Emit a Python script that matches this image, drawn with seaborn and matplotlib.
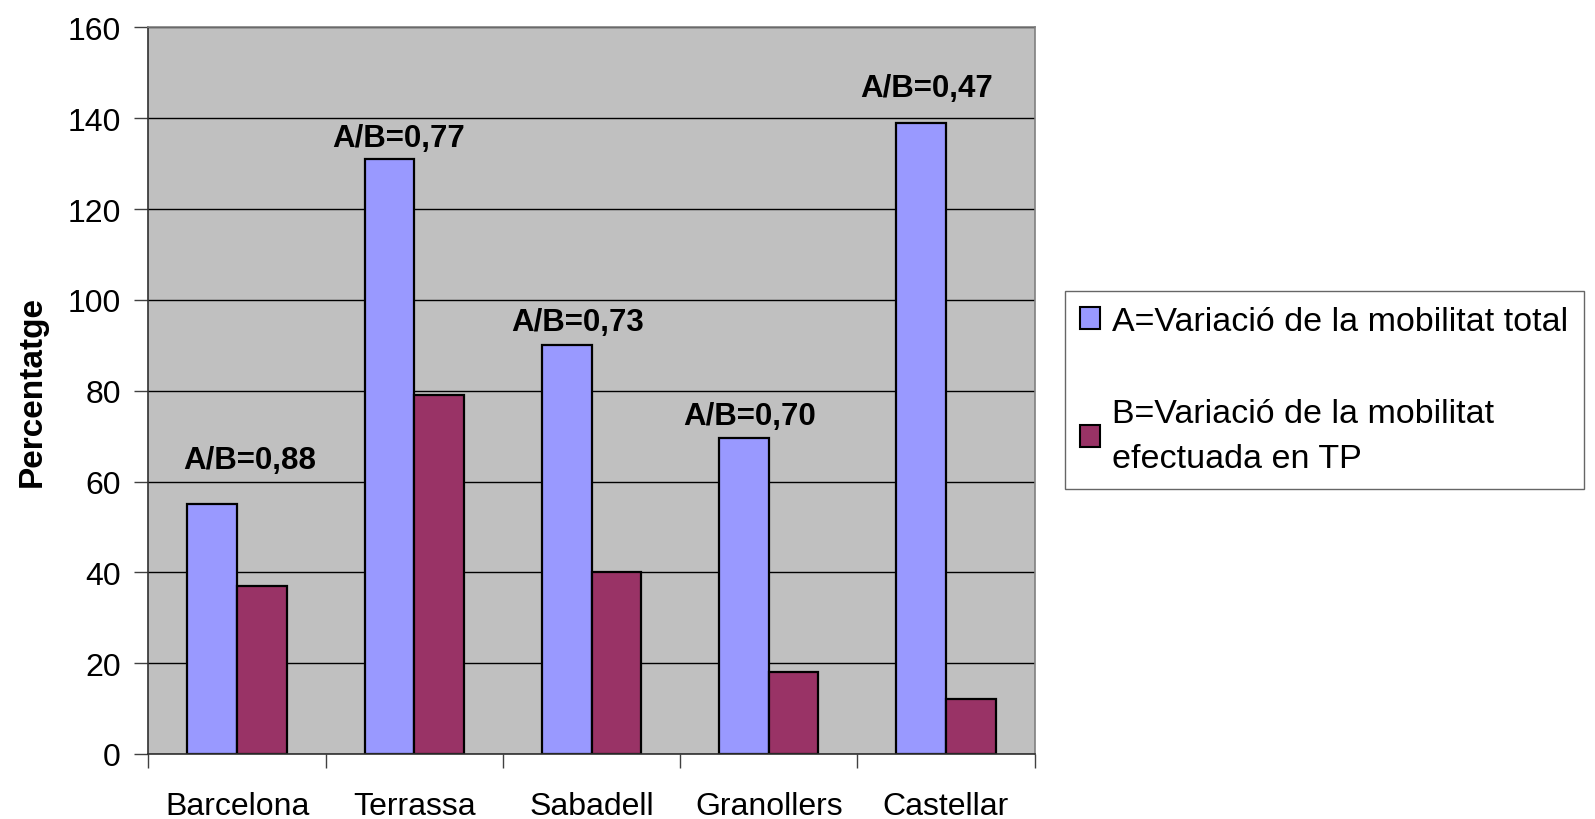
import matplotlib
matplotlib.use("Agg")
import matplotlib.pyplot as plt
import seaborn as sns
import pandas as pd

# Data
cities = ["Barcelona", "Terrassa", "Sabadell", "Granollers", "Castellar"]
var_total = [55, 131, 90, 69.5, 139]
var_tp = [37, 79, 40, 18, 12]
ratio_labels = ["A/B=0,88", "A/B=0,77", "A/B=0,73", "A/B=0,70", "A/B=0,47"]
series_names = ["A=Variació de la mobilitat total",
                "B=Variació de la mobilitat\nefectuada en TP"]
y_ticks = [0, 20, 40, 60, 80, 100, 120, 140, 160]

# Where each ratio note sits (category offset, height in data units)
note_dx = [0.07, -0.09, -0.08, -0.11, -0.11]
note_y = [64.8, 135.6, 95.2, 74.4, 146.6]

df = pd.DataFrame({
    "city": cities * 2,
    "value": var_total + var_tp,
    "serie": [series_names[0]] * len(cities) + [series_names[1]] * len(cities),
})

sns.set_style("white")
plt.rcParams["font.family"] = ["Liberation Sans", "DejaVu Sans"]
plt.rcParams["text.color"] = "black"
plt.rcParams["axes.labelcolor"] = "black"
plt.rcParams["xtick.color"] = "black"
plt.rcParams["ytick.color"] = "black"

fig = plt.figure(figsize=(15.95, 8.2), dpi=100)
ax = fig.add_axes([0.0931, 0.0793, 0.5555, 0.886])
ax.set_facecolor("#C0C0C0")

sns.barplot(data=df, x="city", y="value", hue="serie", order=cities,
            hue_order=series_names, palette=["#9999FF", "#993366"],
            width=0.56, gap=0, edgecolor="black", linewidth=1.6,
            saturation=1, ax=ax, legend=True)

ax.set_ylim(0, 160)
ax.set_xlim(-0.5, len(cities) - 0.5)
ax.set_yticks(y_ticks)
ax.set_yticklabels([str(t) for t in y_ticks], fontsize=23)
ax.yaxis.grid(True, color="black", linewidth=1.0)
ax.set_axisbelow(True)

# Category boundaries carry the ticks; names sit at the centres
ax.set_xticks([i - 0.5 for i in range(len(cities) + 1)])
ax.set_xticklabels([""] * (len(cities) + 1))
ax.set_xticks(range(len(cities)), minor=True)
ax.set_xticklabels(cities, minor=True, fontsize=23)
ax.tick_params(axis="x", which="major", direction="out", length=10,
               width=1, color="#404040", bottom=True)
ax.tick_params(axis="x", which="minor", length=0, pad=27, bottom=True)
ax.tick_params(axis="y", direction="out", length=10, width=1,
               color="#404040", pad=10, left=True)

for side in ["left", "bottom"]:
    ax.spines[side].set_color("#303030")
    ax.spines[side].set_linewidth(1.2)
for side in ["top", "right"]:
    ax.spines[side].set_color("#808080")
    ax.spines[side].set_linewidth(1.2)

ax.set_xlabel("")
ax.set_ylabel("Percentatge", fontsize=24, fontweight="bold", labelpad=14)

for i, txt in enumerate(ratio_labels):
    ax.text(i + note_dx[i], note_y[i], txt, ha="center", va="center",
            fontsize=22.5, fontweight="bold")

handles, labels = ax.get_legend_handles_labels()
ax.get_legend().remove()
leg = fig.legend(handles, labels, loc="upper left",
                 bbox_to_anchor=(0.6675, 0.644), fontsize=24.5,
                 frameon=True, fancybox=False, edgecolor="#404040",
                 handlelength=0.6, handleheight=0.6, handletextpad=0.35,
                 labelspacing=1.8, borderpad=0.45, borderaxespad=0)
leg.get_frame().set_linewidth(1.0)
for t in leg.get_texts():
    t.set_linespacing(1.55)
for h in leg.legend_handles:
    h.set_edgecolor("black")
    h.set_linewidth(1.5)

fig.savefig("out.png", dpi=100, facecolor="white")
